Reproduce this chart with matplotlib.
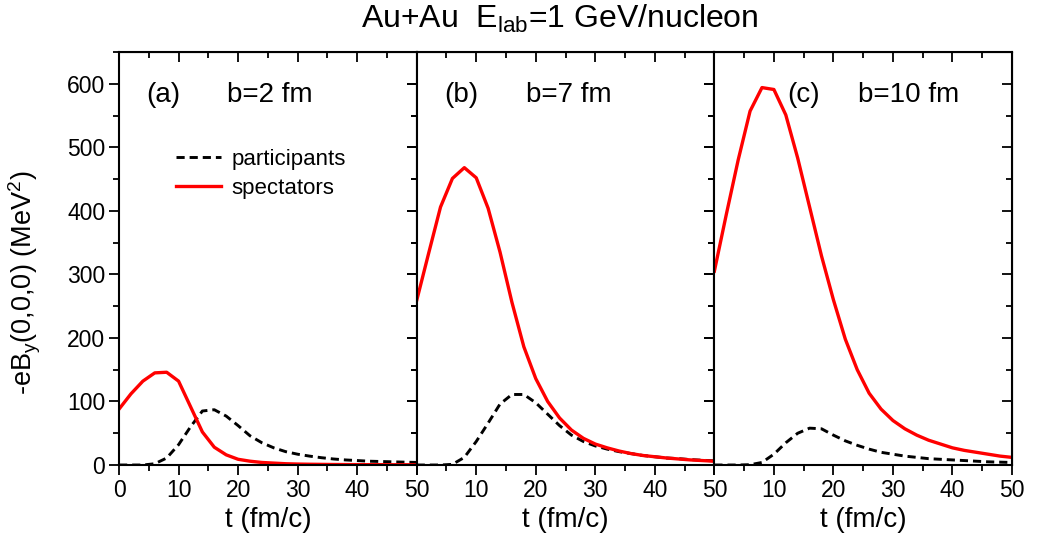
import matplotlib
matplotlib.use('Agg')
import matplotlib.pyplot as plt
from matplotlib.ticker import MultipleLocator

plt.rcParams['font.family'] = ['Liberation Sans', 'DejaVu Sans']
plt.rcParams['mathtext.fontset'] = 'custom'
plt.rcParams['mathtext.rm'] = 'Liberation Sans'
plt.rcParams['mathtext.it'] = 'Liberation Sans'

# ── Data ──────────────────────────────────────────────────────────────────────
t = [0, 2, 4, 6, 8, 10, 12, 14, 16, 18, 20, 22, 24, 26,
     28, 30, 32, 34, 36, 38, 40, 42, 44, 46, 48, 50]

spect_b2 = [88, 112, 132, 145, 146, 132, 92, 52, 28, 16, 9, 6, 4, 3,
            2, 1.5, 1.2, 1, 0.8, 0.7, 0.6, 0.5, 0.5, 0.4, 0.4, 0.3]
part_b2 = [0, 0, 0, 2, 11, 32, 60, 85, 87, 77, 62, 46, 35, 27,
           21, 17, 14, 11.5, 9.5, 8, 7, 6, 5.5, 5, 4.5, 4]

spect_b7 = [259, 333, 406, 451, 468, 452, 404, 335, 256, 186, 136, 100, 74, 55,
            42, 33, 27, 22, 18, 15, 13, 11, 9.5, 8, 7, 6]
part_b7 = [0, 0, 0, 1, 12, 37, 66, 96, 111, 111, 98, 80, 62, 47,
           37, 30, 25, 21, 18, 15, 13, 11, 10, 8.5, 7.5, 6.5]

spect_b10 = [305, 394, 480, 557, 594, 591, 551, 483, 406, 329, 260, 198, 150, 113,
             88, 70, 57, 47, 39, 33, 27, 23, 20, 17, 14, 12]
part_b10 = [0, 0, 0, 0.5, 4, 17, 35, 50, 58, 57, 47, 38, 31, 25,
            20, 17, 14, 12, 10, 9, 8, 7, 6, 5, 4.5, 4]

panel_tags = ['(a)', '(b)', '(c)']
impact_labels = ['b=2 fm', 'b=7 fm', 'b=10 fm']
spectators = [spect_b2, spect_b7, spect_b10]
participants = [part_b2, part_b7, part_b10]

# ── Figure ────────────────────────────────────────────────────────────────────
fig, axes = plt.subplots(1, 3, figsize=(10.37, 5.44), dpi=100, sharey=True)
fig.subplots_adjust(left=0.1148, right=0.9759, top=0.9044, bottom=0.1452, wspace=0)

# panel-label positions in axes fraction: (tag centre x, b= left x)
label_pos = [(0.148, 0.362), (0.150, 0.366), (0.300, 0.482)]


def style_ticks(axis_obj, direction):
    axis_obj.tick_params(which='both', direction=direction, width=1.3)
    axis_obj.tick_params(which='major', length=7)
    axis_obj.tick_params(which='minor', length=4)


for i, ax in enumerate(axes):
    ax.plot(t, participants[i], color='black', lw=2.1, ls=(0, (2.8, 1.7)),
            label='participants')
    ax.plot(t, spectators[i], color='#ff0000', lw=2.4, label='spectators')

    ax.set_xlim(0, 50)
    ax.set_ylim(0, 650)
    ax.xaxis.set_major_locator(MultipleLocator(10))
    ax.xaxis.set_minor_locator(MultipleLocator(5))
    ax.yaxis.set_major_locator(MultipleLocator(100))
    ax.yaxis.set_minor_locator(MultipleLocator(50))
    style_ticks(ax, 'out')
    ax.tick_params(labelsize=16.5, pad=3)
    for sp in ax.spines.values():
        sp.set_linewidth(1.5)

    # mirrored ticks on top / right point inwards
    top = ax.secondary_xaxis('top')
    top.xaxis.set_major_locator(MultipleLocator(10))
    top.xaxis.set_minor_locator(MultipleLocator(5))
    style_ticks(top, 'in')
    top.tick_params(labeltop=False)
    right = ax.secondary_yaxis('right')
    right.yaxis.set_major_locator(MultipleLocator(100))
    right.yaxis.set_minor_locator(MultipleLocator(50))
    style_ticks(right, 'in')
    right.tick_params(labelright=False)

    if i > 0:
        ax.set_xticks([0, 10, 20, 30, 40, 50])
        ax.set_xticklabels(['', '10', '20', '30', '40', '50'])
        ax.tick_params(axis='y', labelleft=False)

    ax.set_xlabel('t (fm/c)', fontsize=20, labelpad=4)
    ax.text(label_pos[i][0], 0.895, panel_tags[i], transform=ax.transAxes,
            ha='center', va='center', fontsize=20)
    ax.text(label_pos[i][1], 0.895, impact_labels[i], transform=ax.transAxes,
            ha='left', va='center', fontsize=20)

axes[0].set_ylabel(r'-eB$_\mathrm{y}$(0,0,0) (MeV$^\mathrm{2}$)', fontsize=19.5)
axes[0].yaxis.set_label_coords(-0.255, 0.44)
axes[0].legend(loc='upper left', bbox_to_anchor=(0.19, 0.765), frameon=False,
               fontsize=16, handlelength=2.05, handletextpad=0.45,
               labelspacing=0.35, borderpad=0, borderaxespad=0)

fig.suptitle(r'Au+Au  E$_\mathrm{lab}$=1 GeV/nucleon', fontsize=23, x=0.540, y=0.995)

fig.savefig('out.png', dpi=100)
